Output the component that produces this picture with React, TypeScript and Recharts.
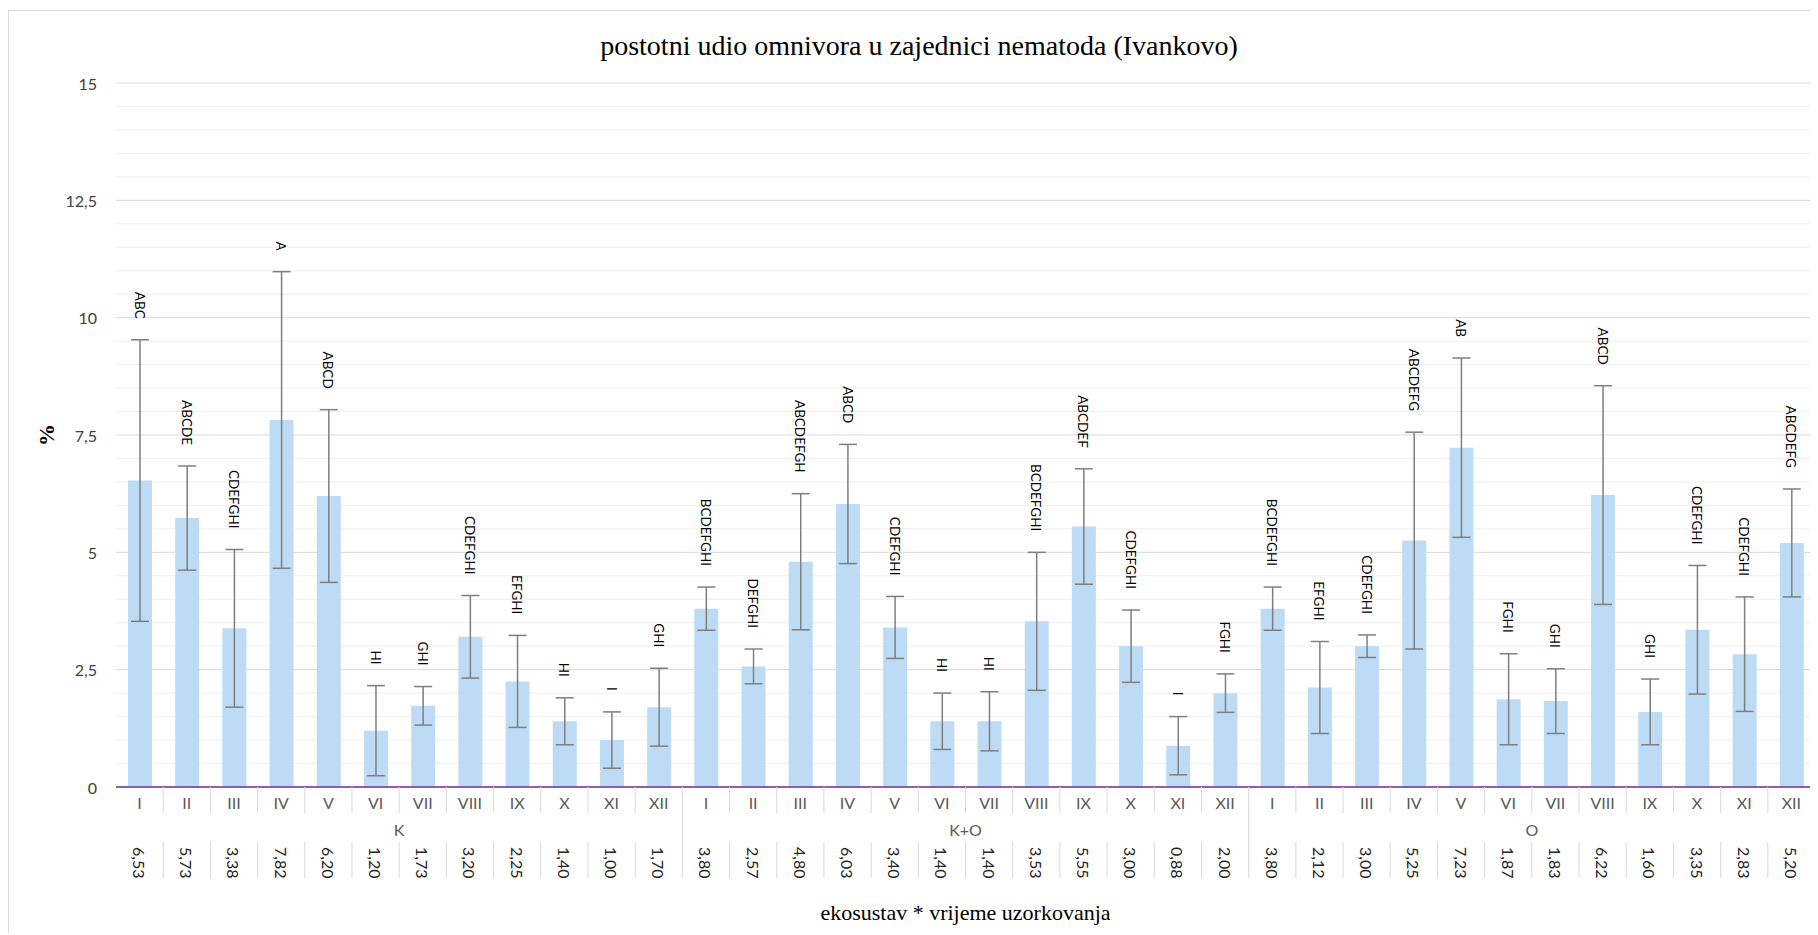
import React from "react";
import {
  ComposedChart,
  Bar,
  Line,
  ErrorBar,
  LabelList,
  XAxis,
  YAxis,
  CartesianGrid,
} from "recharts";

// categories
const months = ["I", "II", "III", "IV", "V", "VI", "VII", "VIII", "IX", "X", "XI", "XII"];
const groups = ["K", "K+O", "O"];

// mean share of omnivores (%)
const means = [
  6.53, 5.73, 3.38, 7.82, 6.2, 1.2, 1.73, 3.2, 2.25, 1.4, 1.0, 1.7,
  3.8, 2.57, 4.8, 6.03, 3.4, 1.4, 1.4, 3.53, 5.55, 3.0, 0.88, 2.0,
  3.8, 2.12, 3.0, 5.25, 7.23, 1.87, 1.83, 6.22, 1.6, 3.35, 2.83, 5.2,
];

// standard deviation (error bars)
const sds = [
  3.0, 1.11, 1.68, 3.16, 1.84, 0.96, 0.41, 0.88, 0.98, 0.5, 0.6, 0.83,
  0.46, 0.37, 1.45, 1.27, 0.66, 0.6, 0.63, 1.47, 1.23, 0.77, 0.62, 0.41,
  0.46, 0.98, 0.24, 2.31, 1.91, 0.97, 0.69, 2.33, 0.7, 1.37, 1.22, 1.15,
];

// significance letters
const letters = [
  "ABC", "ABCDE", "CDEFGHI", "A", "ABCD", "HI", "GHI", "CDEFGHI", "EFGHI", "HI", "I", "GHI",
  "BCDEFGHI", "DEFGHI", "ABCDEFGH", "ABCD", "CDEFGHI", "HI", "HI", "BCDEFGHI", "ABCDEF", "CDEFGHI", "I", "FGHI",
  "BCDEFGHI", "EFGHI", "CDEFGHI", "ABCDEFG", "AB", "FGHI", "GHI", "ABCD", "GHI", "CDEFGHI", "CDEFGHI", "ABCDEFG",
];

const yTicks = [0, 2.5, 5, 7.5, 10, 12.5, 15];
const minorTicks = [
  0.5, 1, 1.5, 2, 3, 3.5, 4, 4.5, 5.5, 6, 6.5, 7, 8, 8.5, 9, 9.5,
  10.5, 11, 11.5, 12, 13, 13.5, 14, 14.5,
];

const data = means.map((m, i) => ({
  key: i,
  month: months[i % 12],
  group: groups[Math.floor(i / 12)],
  mean: m,
  sd: sds[i],
  top: m + sds[i],
  letter: letters[i],
}));

const W = 1810;
const H = 925;
const Y_AXIS_W = 108;
const RIGHT = 3;
const BAND = (W - Y_AXIS_W - RIGHT) / data.length;
const FONT = "Lato, 'Open Sans', 'Noto Sans', sans-serif";
const SERIF = "'Liberation Serif', 'Times New Roman', serif";
const fmt = (v: number) => String(v).replace(".", ",");

const CategoryTick = (props: any) => {
  const { x, y, payload } = props;
  const i = Number(payload.value);
  const d = data[i];
  const right = x + BAND / 2;
  const last = i === data.length - 1;
  const groupEnd = i % 12 === 11 && !last;
  return (
    <g>
      <text x={x} y={y + 15} textAnchor="middle" dominantBaseline="central"
        fontFamily={FONT} fontSize={16} fill="#595959">
        {d.month}
      </text>
      {i % 12 === 5 && (
        <text x={right} y={y + 42} textAnchor="middle" dominantBaseline="central"
          fontFamily={FONT} fontSize={16} fill="#595959">
          {d.group}
        </text>
      )}
      <text x={x} y={y + 60} textAnchor="start" dominantBaseline="central"
        transform={`rotate(90 ${x} ${y + 60})`}
        fontFamily={FONT} fontSize={16} fill="#262626">
        {d.mean.toFixed(2).replace(".", ",")}
      </text>
      {!last && !groupEnd && (
        <>
          <line x1={right} x2={right} y1={y} y2={y + 26} stroke="#d9d9d9" />
          <line x1={right} x2={right} y1={y + 55} y2={y + 91} stroke="#d9d9d9" />
        </>
      )}
      {groupEnd && <line x1={right} x2={right} y1={y} y2={y + 91} stroke="#d9d9d9" />}
    </g>
  );
};

const ValueTick = (props: any) => {
  const { y, payload } = props;
  return (
    <text x={89} y={y} textAnchor="end" dominantBaseline="central"
      fontFamily={FONT} fontSize={16} fill="#404040">
      {fmt(payload.value)}
    </text>
  );
};

const LetterLabel = (props: any) => {
  const { x, y, value } = props;
  const ly = y - 21;
  return (
    <text x={x} y={ly} textAnchor="end" dominantBaseline="central"
      transform={`rotate(90 ${x} ${ly})`}
      fontFamily={FONT} fontSize={13.5} fill="#000">
      {value}
    </text>
  );
};

export default function App() {
  return (
    <div style={{ position: "relative", width: W, height: H }}>
      <div
        style={{
          position: "absolute",
          left: 0,
          top: 2,
          width: W,
          height: H - 2,
          borderTop: "1px solid #d9d9d9",
          borderLeft: "1px solid #d9d9d9",
          boxSizing: "border-box",
        }}
      />
      <div
        style={{
          position: "absolute",
          left: 0,
          width: 1822,
          top: 20,
          textAlign: "center",
          fontFamily: SERIF,
          fontSize: 28,
          color: "#000",
          lineHeight: "36px",
        }}
      >
        postotni udio omnivora u zajednici nematoda (Ivankovo)
      </div>
      <div
        style={{
          position: "absolute",
          left: 39 - 20,
          top: 427 - 15,
          width: 40,
          height: 30,
          transform: "rotate(-90deg)",
          textAlign: "center",
          fontFamily: SERIF,
          fontWeight: "bold",
          fontSize: 22,
          lineHeight: "30px",
        }}
      >
        %
      </div>
      <div
        style={{
          position: "absolute",
          left: Y_AXIS_W,
          width: W - Y_AXIS_W - RIGHT,
          top: 891,
          textAlign: "center",
          fontFamily: SERIF,
          fontSize: 22,
          lineHeight: "28px",
        }}
      >
        ekosustav * vrijeme uzorkovanja
      </div>
      <div style={{ position: "absolute", left: 0, top: 0 }}>
        <ComposedChart
          width={W}
          height={H}
          data={data}
          margin={{ top: 75, right: RIGHT, left: 0, bottom: 0 }}
        >
          <CartesianGrid vertical={false} horizontalValues={minorTicks} stroke="#f0f0f0" />
          <CartesianGrid vertical={false} horizontalValues={yTicks} stroke="#d9d9d9" />
          <XAxis
            dataKey="key"
            type="category"
            interval={0}
            height={146}
            tickSize={0}
            tickMargin={0}
            tickLine={false}
            axisLine={{ stroke: "#7030a0", strokeWidth: 1.5 }}
            tick={<CategoryTick />}
          />
          <YAxis
            width={Y_AXIS_W}
            domain={[0, 15]}
            ticks={yTicks}
            axisLine={false}
            tickLine={false}
            tick={<ValueTick />}
          />
          <Bar dataKey="mean" fill="#bddbf5" barSize={24} isAnimationActive={false}>
            <ErrorBar dataKey="sd" width={9} stroke="#7f7f7f" strokeWidth={1.5} />
          </Bar>
          <Line
            dataKey="top"
            stroke="none"
            dot={false}
            activeDot={false}
            legendType="none"
            isAnimationActive={false}
          >
            <LabelList dataKey="letter" content={<LetterLabel />} />
          </Line>
        </ComposedChart>
      </div>
    </div>
  );
}
